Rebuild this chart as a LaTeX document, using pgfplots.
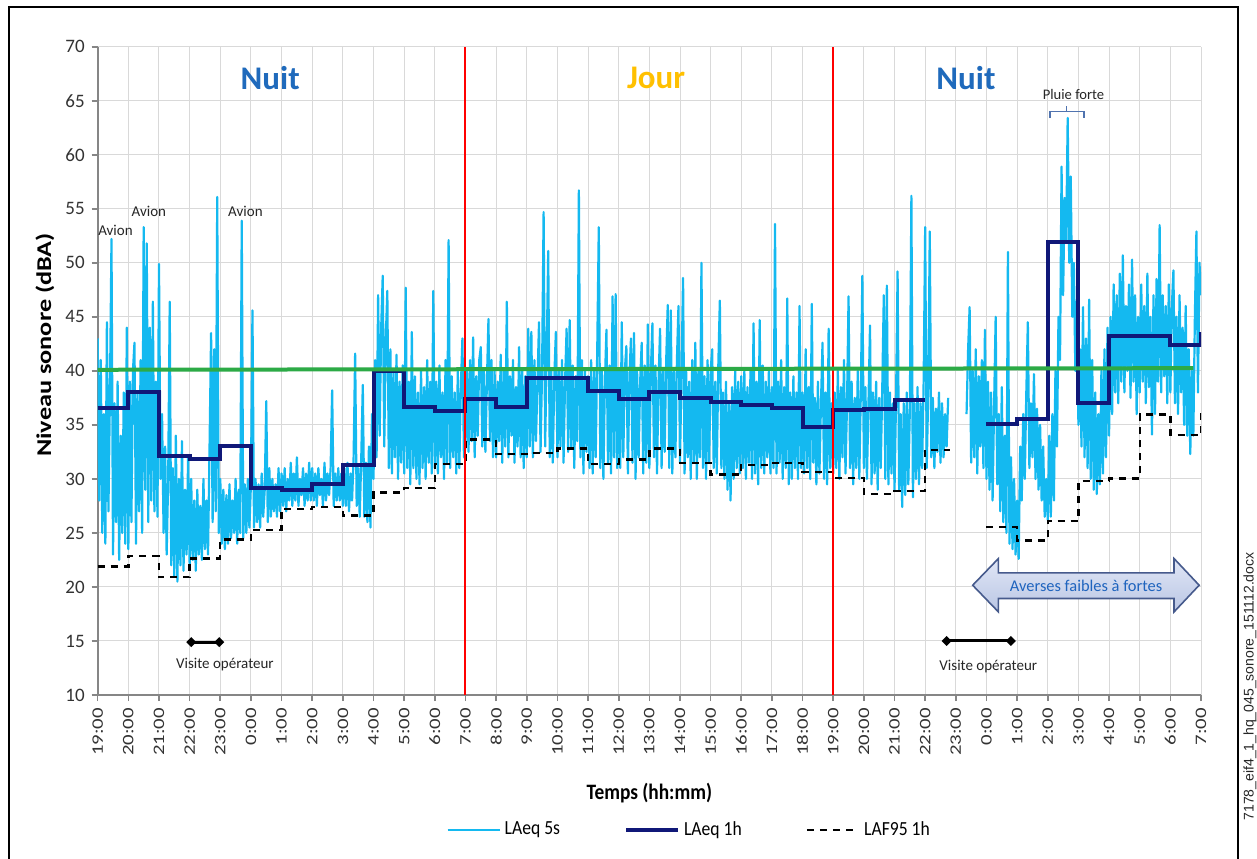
\documentclass[border=0pt]{standalone}
\usepackage{fontspec}
\setmainfont{Carlito}
\newfontfamily\xtfont[FakeStretch=1.3]{Carlito}
\newfontfamily\ylfont[FakeStretch=1.25]{Carlito}
\newfontfamily\cdfont[FakeStretch=0.88]{Carlito}
\newfontfamily\filefont{Liberation Sans}
\usepackage{pgfplots}
\pgfplotsset{compat=1.18}
\usetikzlibrary{arrows.meta}
\definecolor{cyanfive}{RGB}{20,185,240}
\definecolor{navyone}{RGB}{16,24,120}
\definecolor{limitgreen}{RGB}{44,170,70}
\definecolor{nuitblue}{RGB}{31,106,188}
\definecolor{jourgold}{RGB}{255,192,0}
\definecolor{axisgray}{RGB}{134,134,134}
\definecolor{gridgray}{RGB}{217,217,217}
\definecolor{brackblue}{RGB}{80,115,175}
\definecolor{arrowedge}{RGB}{70,90,140}
\definecolor{arrowtop}{RGB}{224,230,246}
\definecolor{arrowbot}{RGB}{186,198,228}
\definecolor{avertext}{RGB}{31,100,190}
\begin{document}
\begin{tikzpicture}
\useasboundingbox (-48.85pt,-81.5pt) rectangle (579.65pt,347.5pt);
\clip (-48.85pt,-81.5pt) rectangle (579.65pt,347.5pt);
\fill[white] (-48.85pt,-81.5pt) rectangle (579.65pt,347.5pt);
\begin{axis}[
  at={(0pt,0pt)}, anchor=south west,
  scale only axis, width=551.65pt, height=324.15pt,
  xmin=0, xmax=36, ymin=10, ymax=70,
  enlargelimits=false,
  unbounded coords=jump,
  axis x line*=bottom, axis y line*=left,
  axis line style={-, draw=axisgray},
  x axis line style={line width=1.3pt},
  y axis line style={line width=0.9pt},
  tick align=outside, major tick length=3pt,
  tick style={draw=axisgray, line width=0.8pt},
  grid=major, major grid style={draw=gridgray, line width=0.5pt},
  xtick={0,1,...,36},
  xticklabels={19:00,20:00,21:00,22:00,23:00,0:00,1:00,2:00,3:00,4:00,5:00,6:00,7:00,8:00,9:00,10:00,11:00,12:00,13:00,14:00,15:00,16:00,17:00,18:00,19:00,20:00,21:00,22:00,23:00,0:00,1:00,2:00,3:00,4:00,5:00,6:00,7:00},
  xticklabel style={rotate=90, anchor=east, font=\xtfont\fontsize{8}{9}\selectfont, text=black!80},
  ytick={10,15,...,70},
  /pgf/number format/assume math mode=true,
  yticklabel style={font=\fontsize{9.5}{11}\selectfont, text=black!80},
  xlabel={\cdfont\bfseries Temps (hh:mm)},
  xlabel style={at={(axis description cs:0.5,-0.151)}, anchor=center, font=\fontsize{11}{13}\selectfont},
  ylabel={\ylfont\bfseries Niveau sonore (dBA)},
  ylabel style={at={(axis description cs:-0.0478,0.54)}, anchor=center, font=\fontsize{10.5}{12}\selectfont},
  legend columns=3,
  legend style={at={(axis description cs:0.537,-0.208)}, anchor=center, draw=none, fill=none,
    font=\cdfont\fontsize{10}{12}\selectfont,
    /tikz/every even column/.append style={column sep=30pt}},
  legend image code/.code={\draw[#1] (0pt,0pt) -- (26pt,0pt);},
]
% LAeq 5s
\addplot[color=cyanfive, line width=1.1pt, line join=round] coordinates {
(0,43)(0.05,28)(0.1,41)(0.15,25)(0.2,36)(0.25,24)(0.3,44.5)(0.35,27)(0.4,38)(0.45,52.2)(0.5,23)(0.55,37)(0.6,26)(0.65,39)(0.7,22.5)(0.75,34)(0.8,25)(0.85,38)(0.9,24)(0.95,44)
(1,23.5)(1.05,39)(1.1,26)(1.15,40)(1.2,42.6)(1.25,24)(1.3,38)(1.35,27)(1.4,41)(1.45,25)(1.5,53.3)(1.55,29)(1.6,51.8)(1.65,26)(1.7,44)(1.75,28)(1.8,46.4)(1.85,27)(1.9,39)(1.95,26.5)
(2,49.9)(2.05,30)(2.1,36)(2.15,25)(2.2,33)(2.25,23)(2.3,30)(2.35,46.4)(2.4,22)(2.45,31)(2.5,21)(2.55,34)(2.6,20.5)(2.65,30)(2.7,22)(2.75,33.5)(2.8,21.5)(2.85,29)(2.9,23)(2.95,32)
(3,22)(3.05,30)(3.1,22.5)(3.15,28)(3.2,21.5)(3.25,29)(3.3,23)(3.35,27.5)(3.4,22.5)(3.45,30)(3.5,23.5)(3.55,28)(3.6,23)(3.65,33)(3.7,43.5)(3.75,26)(3.8,42)(3.85,27)(3.9,56.1)(3.95,25)
(4,30)(4.05,24)(4.1,29)(4.15,23.5)(4.2,28.5)(4.25,24)(4.3,29.5)(4.35,24.5)(4.4,28)(4.45,25)(4.5,30)(4.55,24)(4.6,29)(4.65,25)(4.7,53.9)(4.75,24.5)(4.8,29.5)(4.85,25)(4.9,30)(4.95,25.5)
(5,29.5)(5.05,45.6)(5.1,25.5)(5.15,30)(5.2,26)(5.25,29.5)(5.3,25.5)(5.35,30.5)(5.4,26.5)(5.45,29)(5.5,37.2)(5.55,26)(5.6,31)(5.65,26.5)(5.7,30)(5.75,27)(5.8,29.5)(5.85,26.5)(5.9,31)(5.95,27)
(6,30.5)(6.05,27.5)(6.1,31)(6.15,27)(6.2,30)(6.25,28)(6.3,31.5)(6.35,27.5)(6.4,30.5)(6.45,28)(6.5,32)(6.55,27.5)(6.6,30)(6.65,28.5)(6.7,31)(6.75,27.5)(6.8,30.5)(6.85,28)(6.9,31.5)(6.95,28)
(7,31)(7.05,28)(7.1,30.5)(7.15,27.5)(7.2,31)(7.25,28.5)(7.3,30)(7.35,27.5)(7.4,31.5)(7.45,28)(7.5,30.5)(7.55,28.5)(7.6,31)(7.65,38.2)(7.7,27.5)(7.75,30.5)(7.8,28)(7.85,31)(7.9,28)(7.95,30.5)
(8,27.5)(8.05,31)(8.1,27.5)(8.15,31.5)(8.2,27)(8.25,30.5)(8.3,28)(8.35,32)(8.4,41.6)(8.45,27.5)(8.5,31)(8.55,26.5)(8.6,32)(8.65,38.7)(8.7,26.5)(8.75,31.5)(8.8,26)(8.85,33)(8.9,25.5)(8.95,36)
(9,30)(9.05,41)(9.1,32)(9.15,47)(9.2,34)(9.25,44)(9.3,48.8)(9.35,33)(9.4,43)(9.45,47.4)(9.5,31)(9.55,42)(9.6,30.5)(9.65,40)(9.7,32)(9.75,41.5)(9.8,30)(9.85,39)(9.9,31.5)(9.95,40.5)
(10,30.5)(10.05,47.7)(10.1,31)(10.15,39)(10.2,29.5)(10.25,43.6)(10.3,31)(10.35,39.5)(10.4,30)(10.45,38)(10.5,29.5)(10.55,40)(10.6,31)(10.65,38.5)(10.7,30)(10.75,41)(10.8,31.5)(10.85,39)(10.9,30.5)(10.95,47.4)
(11,31)(11.05,39)(11.1,30.5)(11.15,40.5)(11.2,32)(11.25,38)(11.3,30)(11.35,41)(11.4,31.5)(11.45,52.1)(11.5,31)(11.55,39.5)(11.6,32)(11.65,38)(11.7,30.5)(11.75,40)(11.8,31)(11.85,38.5)(11.9,43)(11.95,32)
(12,33)(12.05,40)(12.1,32.5)(12.15,41)(12.2,33.5)(12.25,43.1)(12.3,32)(12.35,39.5)(12.4,34)(12.45,41)(12.5,42.2)(12.55,33)(12.6,40)(12.65,32.5)(12.7,39)(12.75,44.8)(12.8,33.5)(12.85,41)(12.9,32)(12.95,40)
(13,32)(13.05,39)(13.1,33.5)(13.15,41.5)(13.2,31.5)(13.25,40)(13.3,33)(13.35,46.4)(13.4,32)(13.45,39.5)(13.5,34)(13.55,41)(13.6,31.5)(13.65,38.5)(13.7,33)(13.75,42.2)(13.8,32)(13.85,40)(13.9,31)(13.95,39.5)
(14,32)(14.05,43.9)(14.1,33)(14.15,43.6)(14.2,32)(14.25,41)(14.3,33.5)(14.35,39)(14.4,44.5)(14.45,32.5)(14.5,40)(14.55,54.7)(14.6,33)(14.65,41.5)(14.7,51.1)(14.75,32)(14.8,40)(14.85,31.5)(14.9,39.5)(14.95,43.6)
(15,32)(15.05,40)(15.1,33)(15.15,41)(15.2,31.5)(15.25,39)(15.3,43.9)(15.35,32.5)(15.4,44.7)(15.45,33)(15.5,40.5)(15.55,31)(15.6,39.5)(15.65,33.5)(15.7,56.7)(15.75,32)(15.8,41)(15.85,30.5)(15.9,40)(15.95,32.5)
(16,39.5)(16.05,31)(16.1,41)(16.15,30.5)(16.2,40)(16.25,32)(16.3,42)(16.35,53.3)(16.4,31)(16.45,40)(16.5,30)(16.55,39)(16.6,43.8)(16.65,31.5)(16.7,40.5)(16.75,30.5)(16.8,46.9)(16.85,32)(16.9,47.1)(16.95,31)
(17,40)(17.05,31)(17.1,44.5)(17.15,32)(17.2,40)(17.25,42.3)(17.3,30.5)(17.35,39.5)(17.4,43)(17.45,31.5)(17.5,43.5)(17.55,30)(17.6,40)(17.65,32)(17.7,39)(17.75,42.6)(17.8,30.5)(17.85,40.5)(17.9,31.5)(17.95,44.3)
(18,31)(18.05,40)(18.1,44.4)(18.15,32)(18.2,40.5)(18.25,30.5)(18.3,39)(18.35,43.9)(18.4,31)(18.45,40)(18.5,32.5)(18.55,41)(18.6,46.1)(18.65,31)(18.7,45.6)(18.75,30.5)(18.8,40)(18.85,32)(18.9,41)(18.95,46)
(19,31.5)(19.05,40)(19.1,48.6)(19.15,30.5)(19.2,40)(19.25,32)(19.3,39)(19.35,30)(19.4,41)(19.45,31.5)(19.5,42.6)(19.55,30)(19.6,40)(19.65,32)(19.7,50)(19.75,31)(19.8,39.5)(19.85,30)(19.9,41)(19.95,31.5)
(20,40)(20.05,42)(20.1,31)(20.15,39)(20.2,30.5)(20.25,40.5)(20.3,46.5)(20.35,31)(20.4,38)(20.45,30)(20.5,39)(20.55,29)(20.6,37)(20.65,28)(20.7,38.5)(20.75,30)(20.8,40)(20.85,31)(20.9,39)(20.95,30.5)
(21,39.5)(21.05,31)(21.1,40)(21.15,30)(21.2,38.5)(21.25,31.5)(21.3,40)(21.35,30)(21.4,44.4)(21.45,30.5)(21.5,39)(21.55,29.5)(21.6,44.7)(21.65,31)(21.7,40.5)(21.75,30.5)(21.8,39)(21.85,32)(21.9,40)(21.95,30.5)
(22,38.5)(22.05,31)(22.1,53.6)(22.15,30.5)(22.2,39)(22.25,31.5)(22.3,41)(22.35,30)(22.4,38.5)(22.45,31)(22.5,46.7)(22.55,29.5)(22.6,38)(22.65,30)(22.7,39.5)(22.75,31)(22.8,38)(22.85,30)(22.9,46)(22.95,31)
(23,38)(23.05,30.5)(23.1,42)(23.15,31)(23.2,38.5)(23.25,30)(23.3,46.2)(23.35,31.5)(23.4,37.5)(23.45,29.5)(23.5,39)(23.55,30.5)(23.6,37)(23.65,42.6)(23.7,30)(23.75,38)(23.8,29.5)(23.85,43.9)(23.9,31)(23.95,37)
(24,30.5)(24.05,38)(24.1,31)(24.15,40)(24.2,30)(24.25,38.5)(24.3,32)(24.35,41)(24.4,30.5)(24.45,37)(24.5,46.9)(24.55,31)(24.6,39)(24.65,29.5)(24.7,37.5)(24.75,31)(24.8,40)(24.85,30)(24.9,38)(24.95,48.8)
(25,31)(25.05,38.5)(25.1,30)(25.15,37)(25.2,44.2)(25.25,29.5)(25.3,38)(25.35,30.5)(25.4,39)(25.45,29)(25.5,37.5)(25.55,31)(25.6,38.5)(25.65,47)(25.7,30)(25.75,47.9)(25.8,29.5)(25.85,38)(25.9,30.5)(25.95,37)
(26,29)(26.05,37.5)(26.1,49.2)(26.15,29)(26.2,36)(26.25,27.4)(26.3,37)(26.35,28.5)(26.4,38)(26.45,29.5)(26.5,36.5)(26.55,56.2)(26.6,28.3)(26.65,37)(26.7,30)(26.75,38.5)(26.8,29.5)(26.85,37)(26.9,31)(26.95,39)
(27,53.3)(27.05,31)(27.1,38)(27.15,52.9)(27.2,32)(27.25,37.5)(27.3,31)(27.35,36.5)(27.4,32.5)(27.45,38)(27.5,31.5)(27.55,37)(27.6,32)(27.65,36)(27.7,33)(27.75,37.5)(27.8,nan)
(28.35,36)(28.4,41.9)(28.45,45.9)(28.5,31.5)(28.55,40)(28.6,32)(28.65,42)(28.7,30.5)(28.75,39.5)(28.8,33)(28.85,41)(28.9,31)(28.95,43.8)
(29,30)(29.05,39)(29.1,29)(29.15,38)(29.2,28)(29.25,37)(29.3,45)(29.35,29.5)(29.4,36)(29.45,27)(29.5,38.5)(29.55,26)(29.6,34)(29.65,25)(29.7,51)(29.75,24)(29.8,32)(29.85,23.5)(29.9,30)(29.95,23)
(30,28)(30.05,22.6)(30.1,33)(30.15,28)(30.2,36)(30.25,30)(30.3,38)(30.35,44.5)(30.4,31)(30.45,37)(30.5,32)(30.55,39.7)(30.6,30)(30.65,36.5)(30.7,29)(30.75,35)(30.8,28)(30.85,33)(30.9,26.5)(30.95,30)
(31,26.2)(31.05,34)(31.1,26.5)(31.15,36)(31.2,28)(31.25,40)(31.3,33)(31.35,45)(31.4,41)(31.45,58.9)(31.5,47)(31.55,56)(31.6,52)(31.65,63.4)(31.7,50)(31.75,58)(31.8,45)(31.85,50)(31.9,40)(31.95,46.6)
(32,35)(32.05,42)(32.1,33)(32.15,45.9)(32.2,32)(32.25,43)(32.3,31)(32.35,46.6)(32.4,30)(32.45,41)(32.5,29)(32.55,38)(32.6,28.6)(32.65,36)(32.7,29.5)(32.75,40)(32.8,30.5)(32.85,42)(32.9,32)(32.95,44)
(33,34)(33.05,45)(33.1,36)(33.15,48)(33.2,38)(33.25,47)(33.3,37)(33.35,49)(33.4,39)(33.45,50.7)(33.5,38)(33.55,46)(33.6,40)(33.65,48)(33.7,37.5)(33.75,50.3)(33.8,39)(33.85,47)(33.9,36)(33.95,45)
(34,38)(34.05,48)(34.1,39)(34.15,46)(34.2,37)(34.25,49)(34.3,38.5)(34.35,45)(34.4,34.1)(34.45,47)(34.5,36)(34.55,48.5)(34.6,39)(34.65,53.5)(34.7,38)(34.75,47)(34.8,39.5)(34.85,46)(34.9,37)(34.95,48)
(35,38)(35.05,46)(35.1,49.3)(35.15,37)(35.2,45)(35.25,36)(35.3,47)(35.35,38)(35.4,44)(35.45,35)(35.5,46)(35.55,34)(35.6,42)(35.65,32.3)(35.7,40)(35.75,34)(35.8,45)(35.85,52.9)(35.9,38)(35.95,50)(36,47)
};
\addlegendentry{LAeq 5s}
% LAeq 1h
\addplot[const plot, color=navyone, line width=2pt] coordinates {
(0,36.6)(1,38.0)(2,32.1)(3,31.8)(4,33.0)(5,29.2)(6,28.95)(7,29.5)(8,31.25)(9,40.0)(10,36.7)(11,36.3)
(12,37.35)(13,36.7)(14,39.35)(15,39.35)(16,38.1)(17,37.4)(18,38.0)(19,37.5)(20,37.1)(21,36.8)(22,36.6)(23,34.8)
(24,36.35)(25,36.45)(26,37.3)(27,37.3)(28,nan)(29,35.1)(30,35.5)(31,51.9)(32,37.0)(33,43.2)(34,43.25)(35,42.4)(36,43.6)
};
\addlegendentry{LAeq 1h}
% LAF95 1h
\addplot[const plot, color=black, line width=1.2pt, dash pattern=on 3.5pt off 3pt] coordinates {
(0,21.9)(1,22.85)(2,20.9)(3,22.65)(4,24.4)(5,25.25)(6,27.2)(7,27.4)(8,26.6)(9,28.75)(10,29.15)(11,31.4)
(12,33.65)(13,32.3)(14,32.4)(15,32.8)(16,31.4)(17,31.8)(18,32.8)(19,31.5)(20,30.4)(21,31.3)(22,31.5)(23,30.65)
(24,30.1)(25,28.6)(26,28.9)(27,32.65)(27.8,32.65)(28,nan)(29,25.55)(30,24.3)(31,26.1)(32,29.8)(33,30.05)(34,35.95)(35,34.05)(36,36.2)
};
\addlegendentry{LAF95 1h}
% day / night limits
\addplot[color=red, line width=1pt, forget plot] coordinates {(12,10)(12,70)};
\addplot[color=red, line width=1pt, forget plot] coordinates {(24,10)(24,70)};
% 40 dB reference line
\addplot[color=limitgreen, line width=2pt, forget plot] coordinates {(0,40.1)(35.75,40.25)};
% period titles
\node[font=\bfseries\fontsize{16.5}{18}\selectfont, text=nuitblue] at (5.63,67.1) {Nuit};
\node[font=\bfseries\fontsize{16.5}{18}\selectfont, text=jourgold] at (18.22,67.1) {Jour};
\node[font=\bfseries\fontsize{16.5}{18}\selectfont, text=nuitblue] at (28.33,67.1) {Nuit};
% annotations
\node[font=\fontsize{7.5}{9}\selectfont, text=black!85] at (0.58,53.0) {Avion};
\node[font=\fontsize{7.5}{9}\selectfont, text=black!85] at (1.67,54.74) {Avion};
\node[font=\fontsize{7.5}{9}\selectfont, text=black!85] at (4.82,54.74) {Avion};
\draw[line width=1.5pt, {Diamond[length=5pt,width=5pt]}-{Diamond[length=5pt,width=5pt]}] (2.89,14.9) -- (4.13,14.9);
\node[font=\fontsize{7.5}{9}\selectfont, text=black!85] at (4.15,12.84) {Visite opérateur};
\draw[line width=1.5pt, {Diamond[length=5pt,width=5pt]}-{Diamond[length=5pt,width=5pt]}] (27.54,15.0) -- (29.96,15.0);
\node[font=\fontsize{7.5}{9}\selectfont, text=black!85] at (29.06,12.66) {Visite opérateur};
\node[font=\fontsize{7.3}{9}\selectfont, text=black!85] at (31.84,65.6) {Pluie forte};
\draw[color=brackblue, line width=0.6pt] (31.07,63.4) -- (31.07,64.0) -- (32.18,64.0) -- (32.18,63.4);
\draw[color=brackblue, line width=0.6pt] (31.62,64.0) -- (31.62,64.5);
\draw[draw=arrowedge, line width=0.8pt, top color=arrowtop, bottom color=arrowbot]
  (28.55,20.16) -- (29.39,22.63) -- (29.39,21.30) -- (35.12,21.30) -- (35.12,22.63) -- (35.94,20.16)
  -- (35.12,17.69) -- (35.12,18.93) -- (29.39,18.93) -- (29.39,17.69) -- cycle;
\node[font=\fontsize{8.2}{10}\selectfont, text=avertext] at (32.25,20.1) {Averses faibles à fortes};
\end{axis}
% frame and file name
\draw[black, line width=1pt] (-44.35pt,-120pt) -- (-44.35pt,344pt) -- (570.15pt,344pt) -- (570.15pt,-120pt);
\node[rotate=90, anchor=east, inner sep=0pt, font=\filefont\fontsize{7}{8}\selectfont, text=black!85] at (576.15pt,71.5pt) {7178\_eif4\_1\_hq\_045\_sonore\_151112.docx};
\end{tikzpicture}
\end{document}
